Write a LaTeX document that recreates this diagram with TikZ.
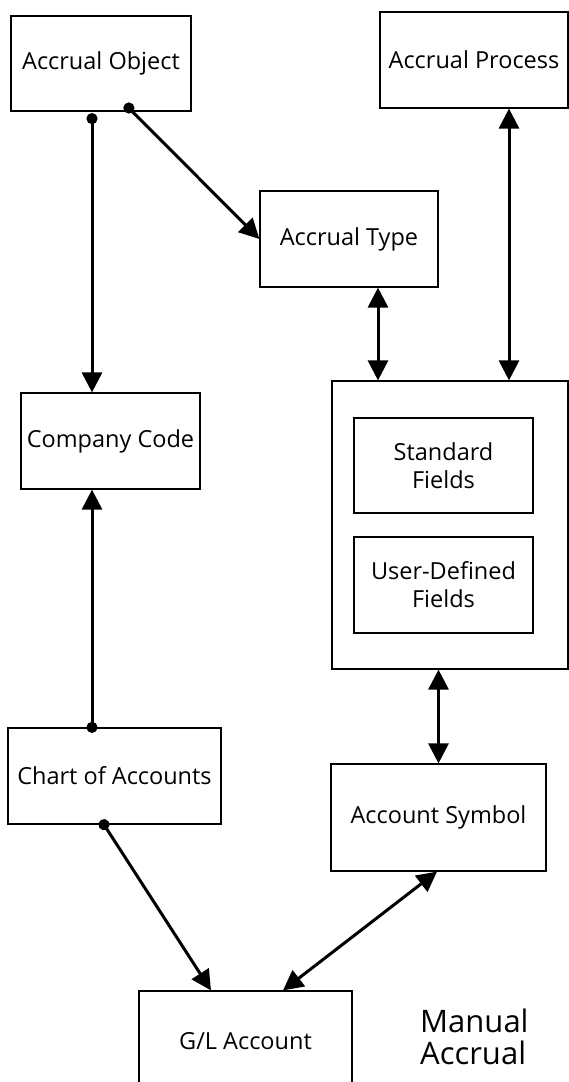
\documentclass[tikz,border=0pt]{standalone}
\usepackage{fontspec}
\setmainfont{Open Sans}
\usetikzlibrary{arrows.meta}
\begin{document}
\begin{tikzpicture}[x=1pt,y=-1pt,
  box/.style={draw, line width=1.2pt, inner sep=0pt, font=\fontsize{23.5}{28}\selectfont, align=center},
  link/.style={line width=3pt},
  >={Triangle[length=20pt,width=20pt]},
  dot/.style={{Circle[length=11pt]}->}]
\useasboundingbox (0,0) rectangle (569,1082);
\clip (0,0) rectangle (569,1082);
\node[box, minimum width=180pt, minimum height=95pt] (ao) at (101,63.5) {Accrual Object};
\node[box, minimum width=188pt, minimum height=96pt] (ap) at (474,60) {Accrual Process};
\node[box, minimum width=178pt, minimum height=96pt] (at) at (349,239) {Accrual Type};
\node[box, minimum width=236pt, minimum height=288pt] (big) at (450,525) {};
\node[box, minimum width=179pt, minimum height=95pt] (sf) at (443.5,465.5) {Standard\\Fields};
\node[box, minimum width=179pt, minimum height=96pt] (udf) at (443.5,585) {User-Defined\\Fields};
\node[box, minimum width=179pt, minimum height=96pt] (cc) at (110.5,441) {Company Code};
\node[box, minimum width=213pt, minimum height=96pt] (coa) at (114.5,776) {Chart of Accounts};
\node[box, minimum width=215pt, minimum height=107pt] (as) at (438.5,817.5) {Account Symbol};
\node[box, minimum width=213pt, minimum height=100pt] (gl) at (245.5,1041) {G/L Account};
\node[anchor=base west, inner sep=0pt, font=\fontsize{31}{31}\selectfont] (ma) at (420,1032)
  {\begin{tabular}[t]{@{}l@{}}Manual\\Accrual\end{tabular}};
% connectors
\draw[link, dot] ([xshift=-9pt,yshift=-1.5pt]ao.south) -- ([xshift=-9pt]ao.south |- cc.north);
\draw[link, dot] ([xshift=24pt,yshift=7.5pt]ao.south) -- (at.west);
\draw[link, <->] ([xshift=29pt]at.south) -- ([xshift=29pt]at.south |- big.north);
\draw[link, <->] ([xshift=35pt]ap.south) -- ([xshift=35pt]ap.south |- big.north);
\draw[link, dot] ([xshift=-22.5pt,yshift=-5.5pt]coa.north) -- ([xshift=-22.5pt]coa.north |- cc.south);
\draw[link, dot] ([xshift=-13.5pt,yshift=4.6pt]coa.south) -- ([xshift=-34.5pt]gl.north);
\draw[link, <->] (as.north |- big.south) -- (as.north);
\draw[link, <->] ([xshift=-1.5pt]as.south) -- ([xshift=37.5pt]gl.north);
\end{tikzpicture}
\end{document}
